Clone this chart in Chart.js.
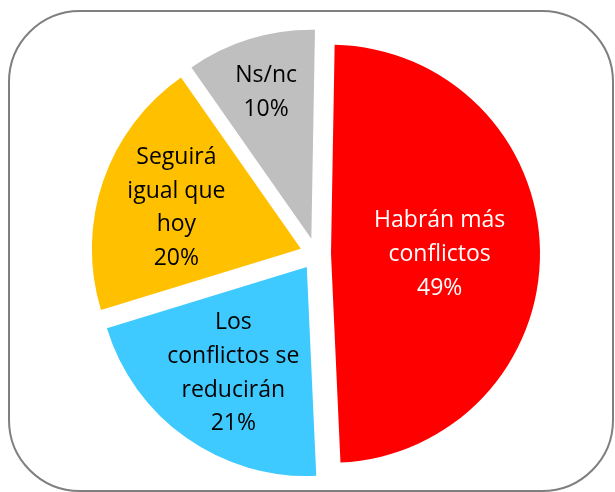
<!DOCTYPE html>
<html lang="es">
<head>
    <meta charset="UTF-8">
    <title>Conflictos - pie</title>
    <style>
        * { margin: 0; padding: 0; }
        body { background: #fff; }
        .container {
            position: relative;
            width: 615px;
            height: 492px;
        }
        .marco {
            position: absolute;
            left: 8px;
            top: 10px;
            width: 606px;
            height: 482px;
            box-sizing: border-box;
            border: 2px solid #7f7f7f;
            border-radius: 72px;
            pointer-events: none;
        }
        canvas { position: absolute; left: 0; top: 0; }
    </style>
</head>
<body>
    <div class="container">
        <div class="marco"></div>
        <canvas id="chart" width="615" height="492"></canvas>
    </div>
    <script src="https://cdn.jsdelivr.net/npm/chart.js@4/dist/chart.umd.min.js"></script>
    <script>
        // datos
        var categorias = [
            ['Habrán más', 'conflictos'],
            ['Los', 'conflictos se', 'reducirán'],
            ['Seguirá', 'igual que', 'hoy'],
            ['Ns/nc']
        ];
        var porcentajes = [49, 21, 20, 10];
        var colores = ['#ff0000', '#3fcaff', '#ffc000', '#bfbfbf'];
        var coloresTexto = ['#ffffff', '#000000', '#000000', '#000000'];
        var distEtiqueta = [0.52, 0.61, 0.63, 0.74]; // fraccion del radio
        var separacion = [15, 16, 16, 16]; // desplazamiento de cada porcion

        function centroPorcion(arc, i) {
            var p = arc.getProps(['x', 'y', 'startAngle', 'endAngle', 'outerRadius'], true);
            var mid = (p.startAngle + p.endAngle) / 2;
            var s = separacion[i];
            return { x: p.x + Math.cos(mid) * s, y: p.y + Math.sin(mid) * s, mid: mid, r: p.outerRadius };
        }

        // porciones separadas (como "explode" de Excel)
        var separar = {
            id: 'separar',
            beforeDatasetsDraw(chart) {
                var ctx = chart.ctx;
                chart.getDatasetMeta(0).data.forEach(function (arc, i) {
                    var c = centroPorcion(arc, i);
                    ctx.save();
                    ctx.translate(c.x - arc.x, c.y - arc.y);
                    arc.draw(ctx);
                    ctx.restore();
                });
                return false;
            },
            afterDraw(chart) {
                var ctx = chart.ctx;
                ctx.save();
                ctx.font = '23px "Open Sans", Lato, sans-serif';
                ctx.textAlign = 'center';
                ctx.textBaseline = 'middle';
                chart.getDatasetMeta(0).data.forEach(function (arc, i) {
                    var c = centroPorcion(arc, i);
                    var cx = c.x + Math.cos(c.mid) * c.r * distEtiqueta[i];
                    var cy = c.y + Math.sin(c.mid) * c.r * distEtiqueta[i] + 2;
                    var lineas = categorias[i].concat([porcentajes[i] + '%']);
                    var lh = 33.7;
                    ctx.fillStyle = coloresTexto[i];
                    lineas.forEach(function (l, k) {
                        ctx.fillText(l, cx, cy + (k - (lineas.length - 1) / 2) * lh);
                    });
                });
                ctx.restore();
            }
        };

        var ctx = document.getElementById('chart').getContext('2d');
        var grafico = new Chart(ctx, {
            type: 'pie',
            data: {
                labels: categorias,
                datasets: [{
                    data: porcentajes,
                    backgroundColor: colores,
                    borderWidth: 0
                }]
            },
            options: {
                responsive: false,
                animation: false,
                rotation: 1,
                layout: { padding: { top: 45, bottom: 29, left: 17, right: 0 } },
                plugins: {
                    legend: { display: false },
                    tooltip: { enabled: false }
                }
            },
            plugins: [separar]
        });
    </script>
</body>
</html>
